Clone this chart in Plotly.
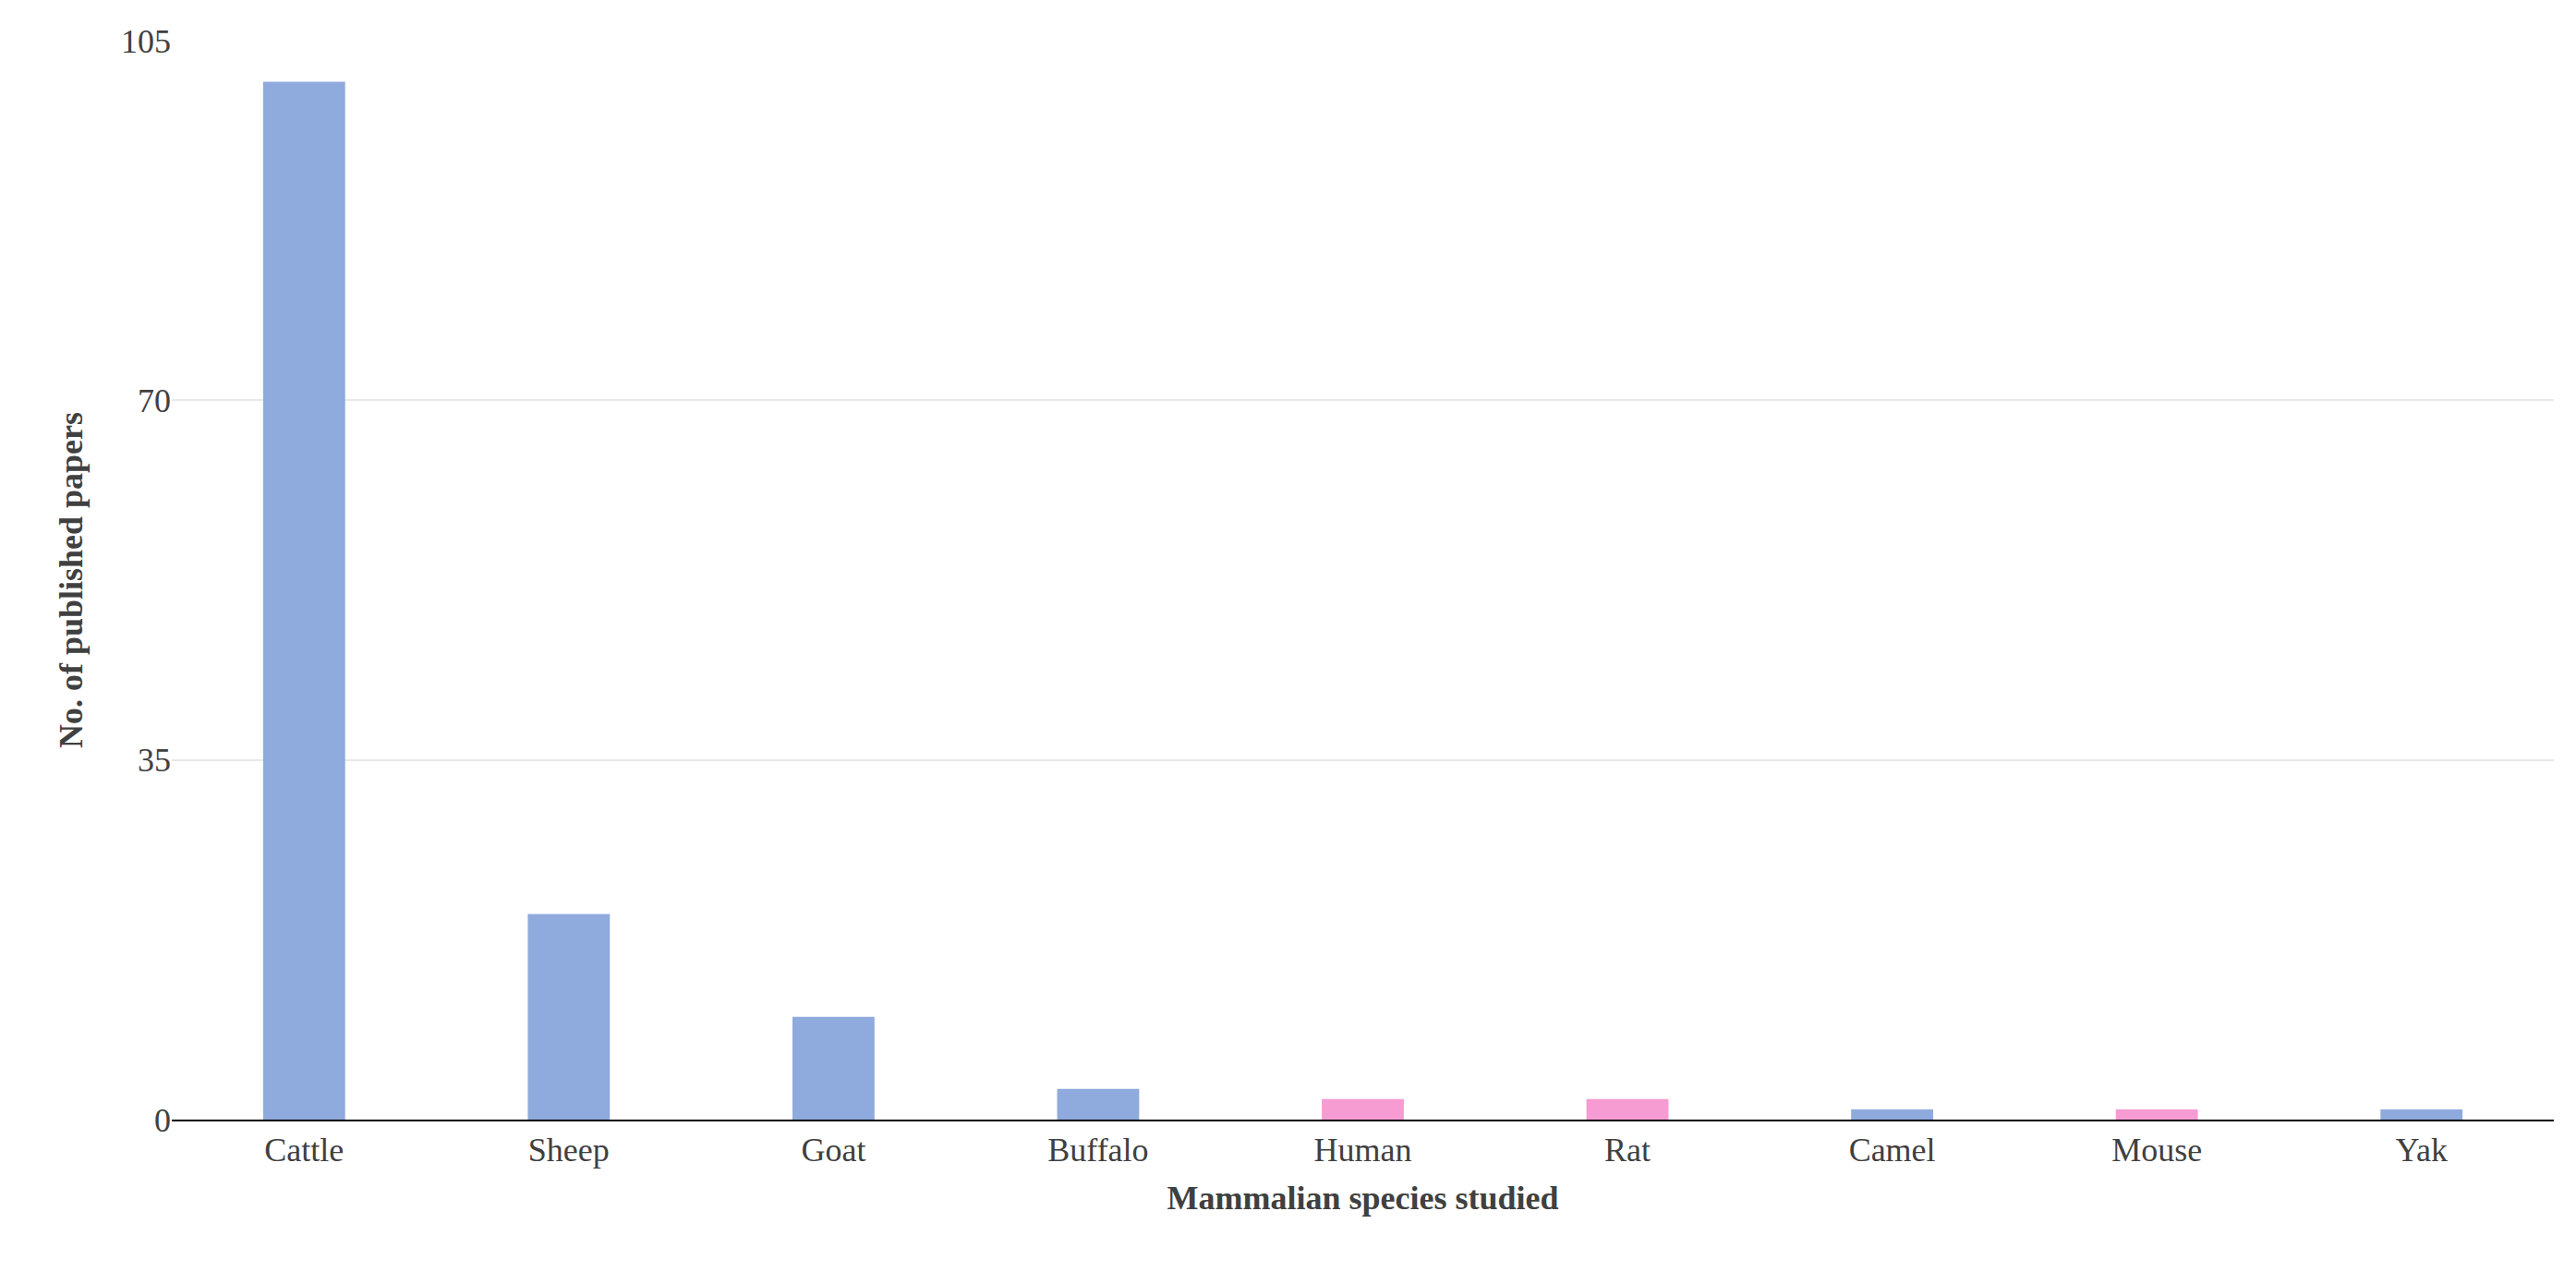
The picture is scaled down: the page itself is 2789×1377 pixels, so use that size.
import plotly.graph_objects as go

species = ["Cattle", "Sheep", "Goat", "Buffalo", "Human", "Rat", "Camel", "Mouse", "Yak"]
papers = [101, 20, 10, 3, 2, 2, 1, 1, 1]
colors = ["#8FAADC", "#8FAADC", "#8FAADC", "#8FAADC", "#F79BD3", "#F79BD3", "#8FAADC", "#F79BD3", "#8FAADC"]
yticks = [0, 35, 70, 105]

fig = go.Figure(go.Bar(x=species, y=papers, marker=dict(color=colors, line=dict(width=0))))
font = "Liberation Serif, Times New Roman, serif"
fig.update_layout(
    width=2789, height=1377,
    paper_bgcolor="white", plot_bgcolor="white",
    margin=dict(l=178, r=32, t=36, b=173),
    bargap=0.69, showlegend=False,
    font=dict(family=font, size=34, color="#404040"),
    xaxis=dict(showline=True, linecolor="black", linewidth=2, ticks="", tickfont=dict(size=36, color="#404040"),
               title=dict(text="<b>Mammalian species studied</b>", font=dict(size=36, color="#404040"), standoff=20)),
    yaxis=dict(range=[0, 105], tickvals=yticks, showgrid=True, gridcolor="#E8E8E8", gridwidth=2,
               zeroline=False, showline=False, tickfont=dict(size=36, color="#404040"),
               title=dict(text="<b>No. of published papers</b>", font=dict(size=36, color="#404040"), standoff=30)),
)
fig.write_html("out.html")
